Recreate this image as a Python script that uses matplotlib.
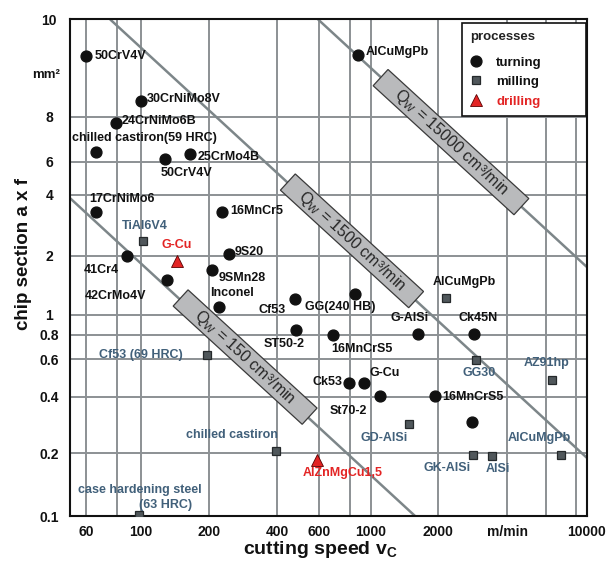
import numpy as np
import matplotlib
matplotlib.use('Agg')
import matplotlib.pyplot as plt
from matplotlib.patches import Rectangle
from matplotlib.transforms import Affine2D, ScaledTranslation
from matplotlib.ticker import NullLocator

plt.rcParams['font.family'] = ['Liberation Sans', 'DejaVu Sans']
plt.rcParams['mathtext.fontset'] = 'custom'
plt.rcParams['mathtext.rm'] = 'Liberation Sans'
plt.rcParams['mathtext.bf'] = 'Liberation Sans:bold'
plt.rcParams['mathtext.it'] = 'Liberation Sans:italic'

# --- data --------------------------------------------------------------
turning_v = [60, 100, 79, 66, 128, 165, 66, 228, 88, 130, 245, 206, 221,
             476, 480, 843, 683, 1626, 2871, 871, 792, 929, 1098, 1939, 2814]
turning_a = [9.2, 8.3, 7.7, 6.4, 6.1, 6.3, 3.3, 3.3, 2.0, 1.51, 2.04, 1.69, 1.1,
             1.21, 0.846, 1.28, 0.8, 0.81, 0.81, 9.22, 0.464, 0.464, 0.403, 0.403, 0.293]
turning_labels = ['50CrV4V', '30CrNiMo8V', '24CrNiMo6B', 'chilled castiron(59 HRC)',
                  '50CrV4V', '25CrMo4B', '17CrNiMo6', '16MnCr5', '41Cr4', '42CrMo4V',
                  '9S20', '9SMn28', 'Inconel', 'Cf53', 'ST50-2', 'GG(240 HB)',
                  '16MnCrS5', 'G-AlSi', 'Ck45N', 'AlCuMgPb', 'Ck53', 'G-Cu',
                  'St70-2', '16MnCrS5', '']

milling_v = [102, 196, 2167, 2929, 6353, 1482, 2842, 3441, 6926, 396, 98]
milling_a = [2.37, 0.63, 1.22, 0.595, 0.48, 0.286, 0.196, 0.195, 0.196, 0.206, 0.101]
milling_labels = ['TiAl6V4', 'Cf53 (69 HRC)', 'AlCuMgPb', 'GG30', 'AZ91hp', 'GD-AlSi',
                  'GK-AlSi', 'AlSi', 'AlCuMgPb', 'chilled castiron',
                  'case hardening steel']
milling_notes = ['', '', '', '', '', '', '', '', '', '', '(63 HRC)']

drilling_v = [144, 588]
drilling_a = [1.88, 0.186]
drilling_labels = ['G-Cu', 'AlZnMgCu1,5']

# lines of constant metal removal rate Q_W (end points as drawn)
q_values = [150, 1500, 15000]
q_line_v = [[52, 1577], [75, 10000], [594, 10000]]
q_line_a = [[3.86, 0.1], [10, 0.19], [10, 1.75]]
q_box_v = [289, 817, 2279]
q_box_a = [0.616, 2.37, 6.8]

x_ticks = [60, 80, 100, 200, 400, 600, 800, 1000, 2000, 4000, 6000, 8000, 10000]
x_ticklabels = ['60', '', '100', '200', '400', '600', '', '1000', '2000', 'm/min', '', '', '10000']
y_ticks = [0.1, 0.2, 0.4, 0.6, 0.8, 1, 2, 4, 6, 8, 10]
y_ticklabels = ['0.1', '0.2', '0.4', '0.6', '0.8', '1', '2', '4', '6', '8', '10']

# --- the original axes are hand drawn: piecewise log scales ----------------
x_knots = np.log10([40, 52, 60, 80, 100, 200, 400, 600, 800, 1000, 2000, 4000, 6000, 8000, 10000, 20000])
x_px = np.array([41.7, 70, 86, 117, 141, 209, 277, 319, 350, 371, 438, 507, 546, 576, 587, 621])
y_knots = np.log10([0.05, 0.1, 0.2, 0.4, 0.6, 0.8, 1, 2, 4, 6, 8, 10, 20])
y_px = np.array([-60, 0, 62.7, 119.3, 156.7, 181, 201, 260.3, 321, 354.3, 399.3, 496.7, 790])


def make_scale(knots, px):
    fwd = lambda v: np.interp(np.log10(np.clip(v, 1e-9, None)), knots, px)
    inv = lambda p: 10 ** np.interp(p, px, knots)
    return fwd, inv


fig = plt.figure(figsize=(6.09, 5.7), dpi=100)
ax = fig.add_axes([70 / 609, 54 / 570, 517 / 609, 496.7 / 570])
ax.set_xscale('function', functions=make_scale(x_knots, x_px))
ax.set_yscale('function', functions=make_scale(y_knots, y_px))
ax.set_xlim(52, 10000)
ax.set_ylim(0.1, 10)

ax.set_xticks(x_ticks)
ax.set_xticklabels(x_ticklabels)
ax.set_yticks(y_ticks)
ax.set_yticklabels(y_ticklabels)
ax.xaxis.set_minor_locator(NullLocator())
ax.yaxis.set_minor_locator(NullLocator())
ax.tick_params(axis='x', length=0, pad=6.5, labelsize=10, labelcolor='#111111')
ax.tick_params(axis='y', length=0, pad=15, labelsize=10, labelcolor='#111111')
for lab in ax.get_xticklabels() + ax.get_yticklabels():
    lab.set_fontweight('bold')
for lab in ax.get_yticklabels():
    lab.set_horizontalalignment('center')

ax.set_axisbelow(True)
ax.grid(True, color='#8c9194', lw=1.4)
for sp in ax.spines.values():
    sp.set_color('#111111')
    sp.set_linewidth(1.5)

# Q_W lines with their grey label boxes
for q, lv, la, bv, ba, blen in zip(q_values, q_line_v, q_line_a, q_box_v, q_box_a, [175, 174, 191]):
    ax.plot(lv, la, color='#7d8689', lw=1.8, zorder=2, solid_capstyle='butt')
    tr = Affine2D().rotate_deg(-42.5) + ScaledTranslation(bv, ba, ax.transData)
    ax.add_patch(Rectangle((-blen / 2, -11), blen, 22, transform=tr, facecolor='#b9babc',
                           edgecolor='#3a3a3a', lw=0.9, zorder=3, clip_on=False))
    ax.text(bv, ba, r'Q$_\mathrm{W}$ = %d cm³/min' % q, rotation=-42.5, rotation_mode='anchor',
            ha='center', va='center', fontsize=11.5, color='#262626', zorder=4)

# markers
ax.plot(turning_v, turning_a, 'o', ms=7.8, color='#111111', mec='#111111', zorder=5)
ax.plot(milling_v, milling_a, 's', ms=6.4, color='#50575b', mec='#25292b', mew=0.9, zorder=5)
ax.plot(drilling_v, drilling_a, '^', ms=8.5, color='#e32424', mec='#5a0000', mew=0.6, zorder=5)

turning_offsets = [(9, 0, 'left'), (6, 2, 'left'), (6, 2, 'left'), (48, 14, 'center'),
                   (21, -14, 'center'), (7, -3, 'left'), (26, 13, 'center'), (8, 1, 'left'),
                   (-26, -14, 'center'), (-51, -16, 'center'), (6, 2, 'left'), (7, -8, 'left'),
                   (13, 14, 'center'), (-23, -11, 'center'), (-12, -14, 'center'),
                   (-15, -13, 'center'), (29, -14, 'center'), (-8, 16, 'center'),
                   (4, 16, 'center'), (8, 3, 'left'), (-6, 1, 'right'), (5, 10, 'left'),
                   (-32, -15, 'center'), (7, -1, 'left'), (0, 0, 'center')]
milling_offsets = [(2, 15, 'center'), (-24, 0, 'right'), (18, 16, 'center'), (3, -13, 'center'),
                   (-5, 17, 'center'), (-24.5, -14, 'center'), (-25.5, -13, 'center'),
                   (6, -13, 'center'), (-22, 17, 'center'), (-44, 16, 'center'), (1, 25, 'center')]
drilling_offsets = [(0, 16, 'center'), (26, -13, 'center')]

slate = '#41607a'
milling_colors = [slate, slate, '#111111'] + [slate] * 8

for vs, as_, labels, offs, cols in [
        (turning_v, turning_a, turning_labels, turning_offsets, ['#111111'] * len(turning_v)),
        (milling_v, milling_a, milling_labels, milling_offsets, milling_colors),
        (drilling_v, drilling_a, drilling_labels, drilling_offsets, ['#e32424'] * 2)]:
    for v, a, lab, (dx, dy, ha), c in zip(vs, as_, labels, offs, cols):
        if not lab:
            continue
        ax.annotate(lab, (v, a), xytext=(dx, dy), textcoords='offset pixels', ha=ha,
                    va='center', fontsize=9, fontweight='bold', color=c, zorder=6)

# second line of a milling label, starting right above its square
for v, a, note in zip(milling_v, milling_a, milling_notes):
    if note:
        ax.annotate(note, (v, a), xytext=(0, 10), textcoords='offset pixels', ha='left',
                    va='center', fontsize=9, fontweight='bold', color=slate, zorder=6)

# legend
h1, = ax.plot([], [], 'o', ms=7.8, color='#111111')
h2, = ax.plot([], [], 's', ms=6.4, color='#50575b', mec='#25292b', mew=0.9)
h3, = ax.plot([], [], '^', ms=8.5, color='#e32424', mec='#5a0000', mew=0.6)
leg = ax.legend([h1, h2, h3], ['turning', 'milling', 'drilling'], title='processes',
                loc='upper left', bbox_to_anchor=(0.758, 0.992 - 0.19, 0.24, 0.19),
                mode='expand', borderaxespad=0,
                fancybox=False, framealpha=1, edgecolor='#111111', alignment='left',
                prop={'weight': 'bold', 'size': 9.5}, labelcolor=['#111111', '#111111', '#e32424'],
                handlelength=1.0, handletextpad=1.0, labelspacing=0.55, borderpad=0.6,
                title_fontproperties={'weight': 'bold', 'size': 9.5})
leg._legend_box.sep = 9.5
leg.get_frame().set_linewidth(1.2)
leg.get_title().set_color('#222222')
leg.set_zorder(7)

# axis titles
fig.text(46 / 609, 1 - 75 / 570, 'mm²', ha='center', va='center', fontsize=9.5,
         fontweight='bold', color='#111111')
fig.text(24 / 609, 1 - 254 / 570, 'chip section a x f', rotation=90, ha='center', va='center',
         fontsize=13.5, fontweight='bold', color='#111111')
fig.text(320 / 609, 1 - 550 / 570, r'cutting speed v$_\mathbf{C}$', ha='center', va='center',
         fontsize=14, fontweight='bold', color='#111111')

fig.savefig('out.png', dpi=100)
